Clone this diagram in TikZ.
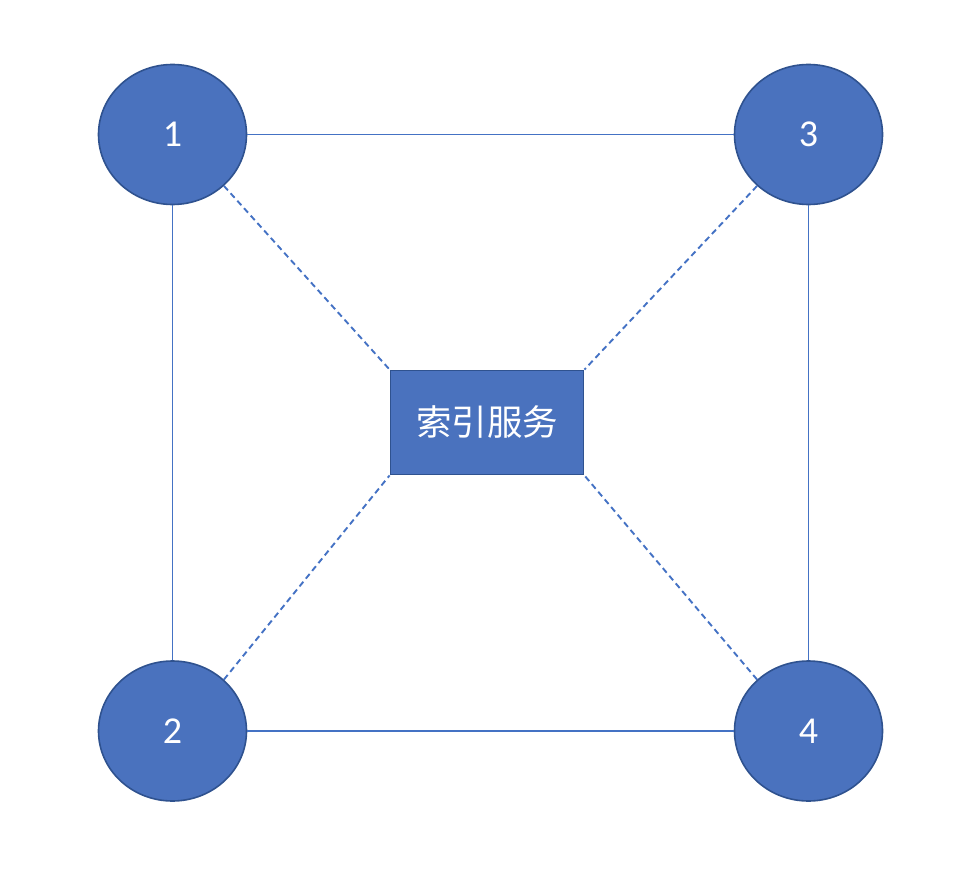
\documentclass[tikz,border=0pt]{standalone}
\usepackage{fontspec}
\setmainfont{Carlito}
\newfontfamily\cjk{Noto Sans CJK SC}
\usetikzlibrary{shapes.geometric}
\definecolor{fillblue}{HTML}{4A72BE}
\definecolor{edgeblue}{HTML}{2F528F}
\definecolor{lineblue}{HTML}{4472C4}
\begin{document}
\begin{tikzpicture}[x=1pt,y=-1pt,
  peer/.style={ellipse,fill=fillblue,draw=edgeblue,line width=1.6pt,minimum width=148pt,minimum height=140pt,inner sep=0pt,text=white,font=\fontsize{38}{40}\selectfont},
  svc/.style={rectangle,fill=fillblue,draw=edgeblue,line width=1.8pt,minimum width=193pt,minimum height=104pt,inner sep=0pt,text=white,font=\cjk\fontsize{35.5}{40}\selectfont},
  link/.style={draw=lineblue,line width=1.8pt},
  dlink/.style={draw=lineblue,line width=1.9pt,dash pattern=on 6pt off 4pt}]
\useasboundingbox (0,0) rectangle (968,890);
\node[peer] (n1) at (172.5,134.5) {1};
\node[peer] (n3) at (808.5,134.5) {3};
\node[peer] (n2) at (172.5,731) {2};
\node[peer] (n4) at (808.5,731) {4};
\node[svc] (s) at (487,422.5) {索引服务};
\draw[link] (n1) -- (n3);
\draw[link] (n2) -- (n4);
\draw[link] (n1.south) -- (n2.north);
\draw[link] (n3.south) -- (n4.north);
\draw[dlink] (n1.-45) -- (s.north west);
\draw[dlink] (n3.-135) -- (s.north east);
\draw[dlink] (n2.45) -- (s.south west);
\draw[dlink] (n4.135) -- (s.south east);
\end{tikzpicture}
\end{document}
